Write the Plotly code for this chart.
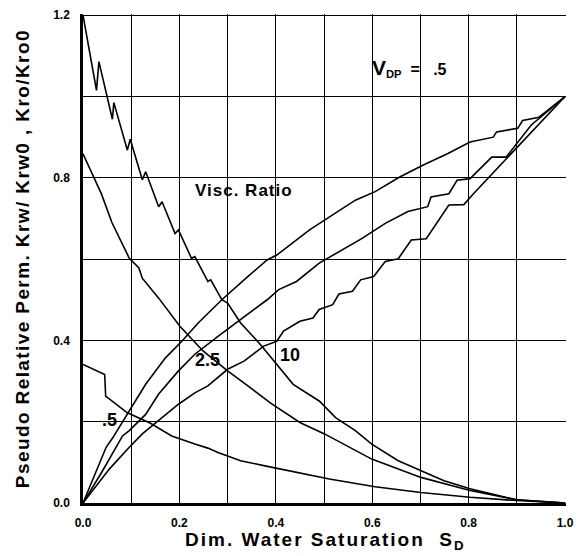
import plotly.graph_objects as go

# Dimensionless water saturation S_D and pseudo relative permeabilities, V_DP = 0.5
# Oil curves (Kro/Kro0) for viscosity ratios 10, 2.5 and .5
sd_kro_10 = [0, 0.028, 0.033, 0.061, 0.064, 0.092, 0.098, 0.123, 0.130, 0.157, 0.164,
             0.191, 0.198, 0.225, 0.232, 0.259, 0.265, 0.288, 0.300, 0.327, 0.368, 0.402,
             0.436, 0.490, 0.524, 0.565, 0.599, 0.654, 0.701, 0.749, 0.803, 0.899, 1.0]
kro_10 = [1.2, 1.015, 1.086, 0.944, 0.985, 0.868, 0.895, 0.795, 0.815, 0.729, 0.741,
          0.663, 0.672, 0.602, 0.606, 0.545, 0.549, 0.500, 0.492, 0.443, 0.390, 0.341,
          0.292, 0.251, 0.210, 0.178, 0.145, 0.104, 0.080, 0.055, 0.035, 0.008, 0.0]

sd_kro_25 = [0, 0.038, 0.060, 0.080, 0.096, 0.116, 0.123, 0.157, 0.201, 0.249, 0.300,
             0.340, 0.390, 0.450, 0.501, 0.599, 0.701, 0.803, 0.899, 1.0]
kro_25 = [0.859, 0.761, 0.690, 0.640, 0.602, 0.578, 0.553, 0.504, 0.435, 0.374, 0.325,
          0.290, 0.245, 0.198, 0.170, 0.108, 0.063, 0.031, 0.008, 0.0]

sd_kro_05 = [0, 0.045, 0.047, 0.092, 0.140, 0.184, 0.232, 0.259, 0.280, 0.327, 0.375,
             0.422, 0.511, 0.606, 0.701, 0.803, 0.899, 1.0]
kro_05 = [0.341, 0.316, 0.263, 0.222, 0.196, 0.165, 0.145, 0.135, 0.124, 0.104, 0.092,
          0.080, 0.059, 0.040, 0.026, 0.014, 0.006, 0.0]

# Water curves (Krw/Krw0)
sd_krw_a = [0, 0.028, 0.048, 0.062, 0.096, 0.130, 0.171, 0.205, 0.239, 0.288, 0.340,
            0.382, 0.402, 0.470, 0.565, 0.606, 0.657, 0.705, 0.756, 0.803, 0.851, 0.858,
            0.902, 0.912, 0.946, 1.0]
krw_a = [0, 0.080, 0.137, 0.161, 0.227, 0.292, 0.357, 0.398, 0.443, 0.500, 0.555,
         0.598, 0.610, 0.672, 0.745, 0.766, 0.802, 0.831, 0.859, 0.888, 0.900, 0.913,
         0.922, 0.941, 0.949, 1.0]

sd_krw_b = [0, 0.041, 0.082, 0.096, 0.130, 0.157, 0.198, 0.232, 0.280, 0.330, 0.382,
            0.406, 0.443, 0.490, 0.538, 0.579, 0.627, 0.674, 0.715, 0.722, 0.759, 0.776,
            0.803, 0.848, 0.878, 0.930, 1.0]
krw_b = [0, 0.080, 0.165, 0.178, 0.218, 0.268, 0.325, 0.366, 0.410, 0.455, 0.500,
         0.525, 0.545, 0.590, 0.623, 0.651, 0.688, 0.717, 0.729, 0.753, 0.761, 0.794,
         0.798, 0.851, 0.851, 0.930, 1.0]

sd_krw_c = [0, 0.055, 0.096, 0.123, 0.164, 0.198, 0.232, 0.259, 0.300, 0.334, 0.375,
            0.402, 0.416, 0.450, 0.477, 0.490, 0.518, 0.531, 0.559, 0.576, 0.603, 0.627,
            0.654, 0.681, 0.712, 0.759, 0.790, 0.810, 1.0]
krw_c = [0, 0.084, 0.137, 0.170, 0.210, 0.243, 0.271, 0.288, 0.329, 0.349, 0.386,
         0.398, 0.423, 0.447, 0.455, 0.476, 0.488, 0.514, 0.521, 0.549, 0.557, 0.594,
         0.601, 0.647, 0.650, 0.733, 0.734, 0.761, 1.0]

x_ticks = [0.0, 0.2, 0.4, 0.6, 0.8, 1.0]
y_ticks = [0.0, 0.4, 0.8, 1.2]

FONT = "Liberation Sans, Arial, sans-serif"

fig = go.Figure()
for xs, ys in [(sd_kro_10, kro_10), (sd_kro_25, kro_25), (sd_kro_05, kro_05),
               (sd_krw_a, krw_a), (sd_krw_b, krw_b), (sd_krw_c, krw_c)]:
    fig.add_trace(go.Scatter(x=xs, y=ys, mode="lines",
                             line=dict(color="black", width=1.6),
                             showlegend=False, hoverinfo="skip"))

grid = dict(showgrid=True, gridcolor="black", gridwidth=1.3)

fig.update_xaxes(range=[0, 1.002], tickvals=x_ticks,
                 ticktext=[f"{v:.1f}" for v in x_ticks],
                 ticks="", ticklabelstandoff=7,
                 tickfont=dict(family=FONT, size=12, color="black", weight="bold"),
                 showline=True, linecolor="black", linewidth=2.5, zeroline=False,
                 minor=dict(dtick=0.1, tick0=0, **grid), **grid)
fig.update_yaxes(range=[0, 1.203], tickvals=y_ticks,
                 ticktext=[f"{v:.1f}" for v in y_ticks],
                 ticks="", ticklabelstandoff=8,
                 tickfont=dict(family=FONT, size=12, color="black", weight="bold"),
                 showline=True, linecolor="black", linewidth=2.5, zeroline=False,
                 minor=dict(dtick=0.2, tick0=0, **grid), **grid)


def spaced(text, px):
    return f"<span style='letter-spacing:{px}px'>{text}</span>"


lbl = dict(family=FONT, size=18, color="black", weight="bold")
annotations = [
    dict(x=0.333, y=0.770, text=spaced("Visc. Ratio", 1),
         font=dict(family=FONT, size=17, color="black", weight="bold")),
    dict(x=0.259, y=0.352, text="2.5", font=lbl),
    dict(x=0.429, y=0.364, text="10", font=lbl),
    dict(x=0.055, y=0.203, text=".5", font=lbl),
    dict(x=0.678, y=1.070,
         text="<span style='font-size:21px'>V</span><sub>DP</sub>  =   .5",
         font=dict(family=FONT, size=16, color="black", weight="bold")),
    dict(x=0.5, y=-0.078, xref="paper", yref="paper",
         text=spaced("Dim. Water Saturation  S", 2) + "<sub>D</sub>",
         font=dict(family=FONT, size=19, color="black", weight="bold")),
    dict(x=-0.125, y=0.5, xref="paper", yref="paper", textangle=-90,
         text=spaced("Pseudo Relative Perm. Krw/ Krw0 , Kro/Kro0", 1.4),
         font=dict(family=FONT, size=19, color="black", weight="bold")),
]
for a in annotations:
    a.setdefault("xref", "x")
    a.setdefault("yref", "y")
    a["showarrow"] = False
    a["xanchor"] = "center"
    a["yanchor"] = "middle"
fig.update_layout(annotations=annotations)

fig.update_layout(width=582, height=556,
                  margin=dict(l=83, r=8, t=12, b=53),
                  plot_bgcolor="white", paper_bgcolor="white",
                  font=dict(family=FONT, color="black"))

fig.write_html("out.html")
